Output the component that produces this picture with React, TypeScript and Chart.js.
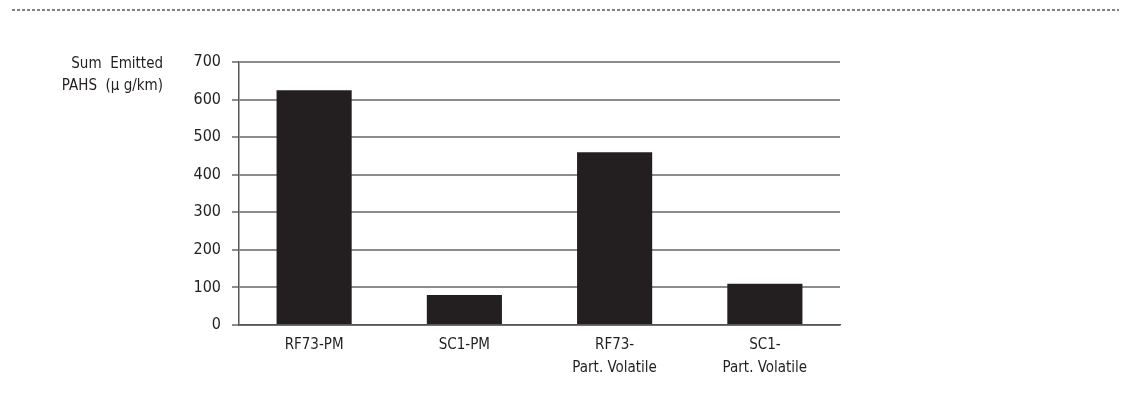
import React, { useEffect, useRef } from "react";
import { Chart, registerables } from "chart.js";

Chart.register(...registerables);

const categories: string[][] = [
  ["RF73-PM"],
  ["SC1-PM"],
  ["RF73-", "Part. Volatile"],
  ["SC1-", "Part. Volatile"],
];
const emittedPAHs: number[] = [625, 80, 460, 110];
const yTicks: number[] = [0, 100, 200, 300, 400, 500, 600, 700];
const yTitleLines: string[] = ["Sum  Emitted", "PAHS  (\u00B5 g/km)"];

const FONT = "'Liberation Sans Narrow', 'DejaVu Sans Condensed', sans-serif";
const INK = "#231f20";

const decorPlugin = {
  id: "decor",
  afterDraw(chart: any) {
    const ctx = chart.ctx;
    const area = chart.chartArea;
    ctx.save();
    // top dashed rule
    ctx.strokeStyle = "#5a5a5a";
    ctx.lineWidth = 1.5;
    ctx.setLineDash([3, 2]);
    ctx.beginPath();
    ctx.moveTo(12, 10);
    ctx.lineTo(1119, 10);
    ctx.stroke();
    ctx.setLineDash([]);
    // y title
    ctx.fillStyle = INK;
    ctx.font = `15px ${FONT}`;
    ctx.textAlign = "right";
    ctx.textBaseline = "middle";
    yTitleLines.forEach((line, i) => {
      ctx.fillText(line, 163, area.top + 2 + i * 22);
    });
    ctx.restore();
  },
};

export default function App() {
  const ref = useRef<HTMLCanvasElement | null>(null);
  useEffect(() => {
    document.body.style.margin = "0";
    const chart = new Chart(ref.current as HTMLCanvasElement, {
      type: "bar",
      data: {
        labels: categories,
        datasets: [
          {
            data: emittedPAHs,
            backgroundColor: INK,
            borderWidth: 0,
            barPercentage: 0.5,
            categoryPercentage: 1,
          },
        ],
      },
      options: {
        animation: false,
        responsive: false,
        devicePixelRatio: 1,
        layout: { padding: { left: 0, right: 285, top: 62, bottom: 0 } },
        plugins: {
          legend: { display: false },
          tooltip: { enabled: false },
          title: { display: false },
        },
        scales: {
          x: {
            grid: { display: false, drawTicks: false },
            border: { display: true, color: "#555555", width: 1.5 },
            ticks: {
              color: INK,
              font: { family: FONT, size: 15, lineHeight: 1.5 },
              padding: 9,
              maxRotation: 0,
              autoSkip: false,
            },
            afterFit(scale: any) {
              scale.height = 74;
            },
          },
          y: {
            min: 0,
            max: 700,
            afterBuildTicks(scale: any) {
              scale.ticks = yTicks.map((v) => ({ value: v }));
            },
            grid: {
              color: "#8c8c8c",
              lineWidth: 2,
              drawTicks: true,
              tickLength: 7,
            },
            border: { display: true, color: "#555555", width: 1.5 },
            ticks: {
              color: INK,
              font: { family: FONT, size: 16 },
              padding: 11,
            },
            afterFit(scale: any) {
              scale.width = 239;
            },
          },
        },
      },
      plugins: [decorPlugin],
    });
    return () => chart.destroy();
  }, []);
  return (
    <div style={{ position: "fixed", left: 0, top: 0, width: 1125, height: 399, background: "#fff" }}>
      <canvas ref={ref} width={1125} height={399} />
    </div>
  );
}
